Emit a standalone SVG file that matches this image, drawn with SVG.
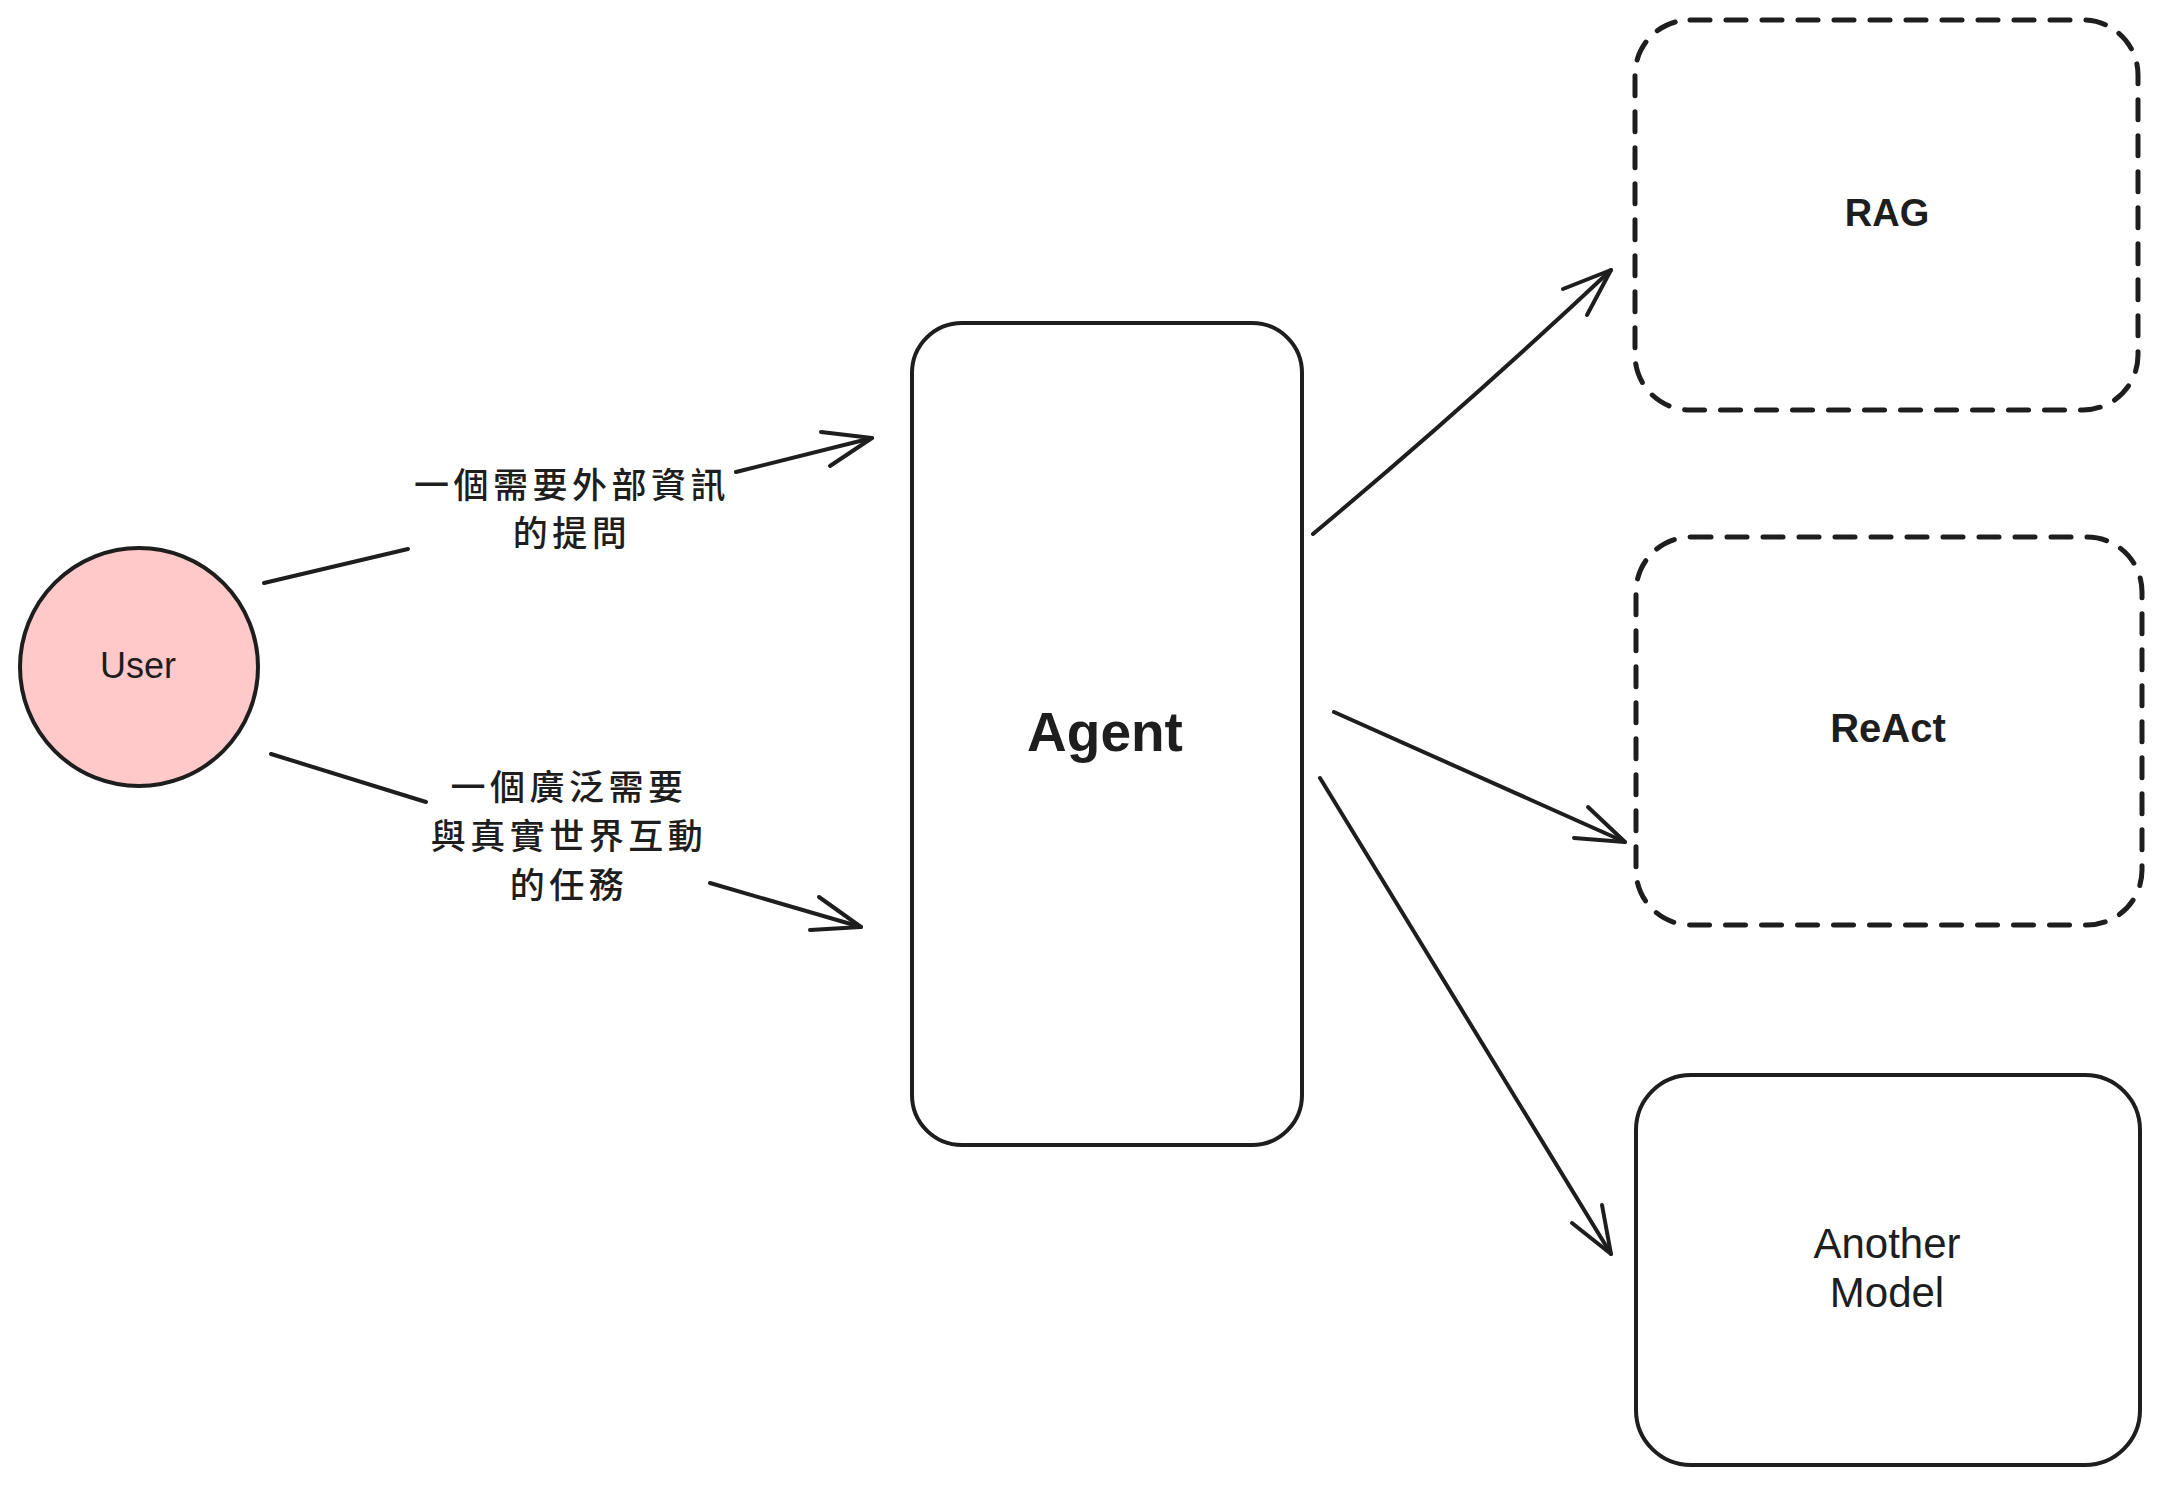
<svg xmlns="http://www.w3.org/2000/svg" width="2158" height="1485" viewBox="0 0 2158 1485">
  <style>
    .shape { fill: #ffffff; stroke: #1e1e1e; stroke-width: 4; stroke-linejoin: round; }
    .dashed { fill: none; stroke: #1e1e1e; stroke-width: 5; stroke-dasharray: 20 16; stroke-linecap: round; }
    .conn { fill: none; stroke: #1e1e1e; stroke-width: 4; stroke-linecap: round; stroke-linejoin: round; }
    .lbl { font-family: "Liberation Sans", "Noto Sans", sans-serif; fill: #1e1e1e; text-anchor: middle; }
    .b { font-weight: bold; }
    .cjk { font-family: "Noto Sans CJK TC", "Noto Sans CJK SC", sans-serif; fill: #1e1e1e; text-anchor: middle; font-size: 35px; font-weight: 500; letter-spacing: 4.5px; }
  </style>
  <rect x="0" y="0" width="2158" height="1485" fill="#ffffff"/>

  <g id="connectors">
    <g id="edge-user-agent-1">
      <path class="conn" d="M264 583 L408 549"/>
      <path class="conn" d="M736 472 L872 438"/>
      <path class="conn" d="M821 432 L872 438 L830 466"/>
      <text class="cjk" x="572" y="498">一個需要外部資訊</text>
      <text class="cjk" x="572" y="546">的提問</text>
    </g>
    <g id="edge-user-agent-2">
      <path class="conn" d="M271 754 L426 802"/>
      <path class="conn" d="M710 883 L861 927"/>
      <path class="conn" d="M819 897 L861 927 L810 930"/>
      <text class="cjk" x="569" y="800">一個廣泛需要</text>
      <text class="cjk" x="569" y="849">與真實世界互動</text>
      <text class="cjk" x="569" y="898">的任務</text>
    </g>
    <g id="edge-agent-rag">
      <path class="conn" d="M1313 534 Q1465 407 1611 270"/>
      <path class="conn" d="M1563 289 L1611 270 L1587 315"/>
    </g>
    <g id="edge-agent-react">
      <path class="conn" d="M1334 712 L1625 842"/>
      <path class="conn" d="M1588 807 L1625 842 L1574 838"/>
    </g>
    <g id="edge-agent-model">
      <path class="conn" d="M1320 778 L1611 1254"/>
      <path class="conn" d="M1602 1205 L1611 1254 L1572 1223"/>
    </g>
  </g>

  <g id="node-user">
    <circle cx="139" cy="667" r="119" fill="#ffc9c9" stroke="#1e1e1e" stroke-width="4"/>
    <text class="lbl" x="138" y="678" font-size="36">User</text>
  </g>

  <g id="node-agent">
    <rect class="shape" x="912" y="323" width="390" height="822" rx="50" ry="50"/>
    <text class="lbl b" x="1105" y="751" font-size="55">Agent</text>
  </g>

  <g id="node-rag">
    <rect class="dashed" x="1635" y="20" width="503" height="390" rx="55" ry="55"/>
    <text class="lbl b" x="1887" y="226" font-size="38">RAG</text>
  </g>

  <g id="node-react">
    <rect class="dashed" x="1636" y="537" width="506" height="388" rx="55" ry="55"/>
    <text class="lbl b" x="1888" y="742" font-size="40">ReAct</text>
  </g>

  <g id="node-model">
    <rect class="shape" x="1636" y="1075" width="504" height="390" rx="55" ry="55"/>
    <text class="lbl" x="1887" y="1258" font-size="42">Another</text>
    <text class="lbl" x="1887" y="1307" font-size="42">Model</text>
  </g>
</svg>
